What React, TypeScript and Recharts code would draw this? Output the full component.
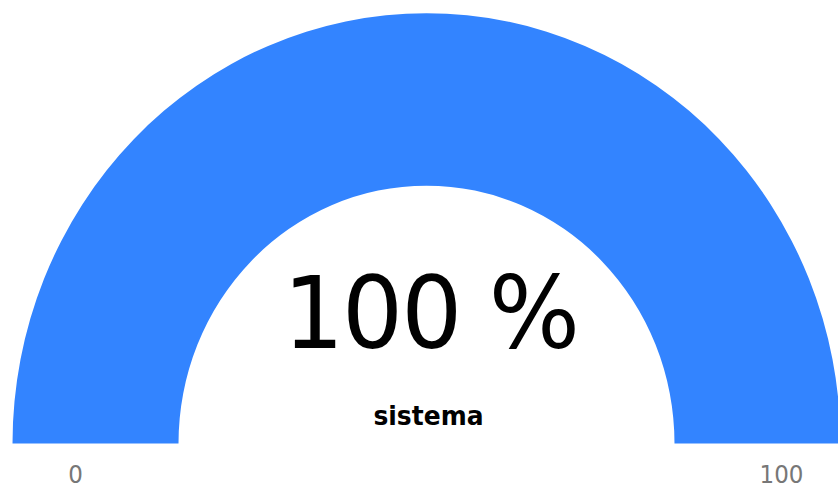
import { Pie, PieChart, Cell } from "recharts";

const gaugeMin = 0;
const gaugeMax = 100;
const gaugeValue = 100;
const gaugeTitle = "sistema";
const gaugeTicks = [gaugeMin, gaugeMax];

const BLUE = "#3384ff";
const TRACK = "#edebeb";

const W = 838;
const H = 474;
const CX = 426.5;
const CY = 426.5;
const INNER = 248;
const OUTER = 414;
const TICK_R = 353;

const slices = [
    { name: "value", value: gaugeValue - gaugeMin },
    { name: "rest", value: gaugeMax - gaugeValue },
];

const App = () => {
    return (
        <div
            style={{
                position: "absolute",
                left: 0,
                top: 0,
                width: W,
                height: H,
                transform: "scaleY(1.04)",
                transformOrigin: "0 0",
            }}
        >
            <PieChart width={W} height={H} margin={{ top: 0, right: 0, bottom: 0, left: 0 }}>
                <Pie
                    data={slices}
                    dataKey="value"
                    cx={CX}
                    cy={CY}
                    startAngle={180}
                    endAngle={0}
                    innerRadius={INNER}
                    outerRadius={OUTER}
                    stroke="none"
                    isAnimationActive={false}
                >
                    <Cell fill={BLUE} />
                    <Cell fill={TRACK} />
                </Pie>
                <text
                    x={CX + 4}
                    y={334.6}
                    textAnchor="middle"
                    fontFamily="DejaVu Sans"
                    fontSize={96}
                    letterSpacing={-2}
                    fill="#010101"
                >
                    {`${gaugeValue} %`}
                </text>
                <text
                    x={CX + 2}
                    y={408.6}
                    textAnchor="middle"
                    fontFamily="DejaVu Sans"
                    fontWeight="bold"
                    fontSize={25}
                    fill="#010101"
                >
                    {gaugeTitle}
                </text>
                {gaugeTicks.map((t, i) => (
                    <text
                        key={t}
                        x={i === 0 ? CX - TICK_R + 2 : CX + TICK_R + 2}
                        y={464.4}
                        textAnchor="middle"
                        fontFamily="DejaVu Sans"
                        fontSize={23}
                        fill="#777777"
                    >
                        {t}
                    </text>
                ))}
            </PieChart>
        </div>
    );
};

export default App;
